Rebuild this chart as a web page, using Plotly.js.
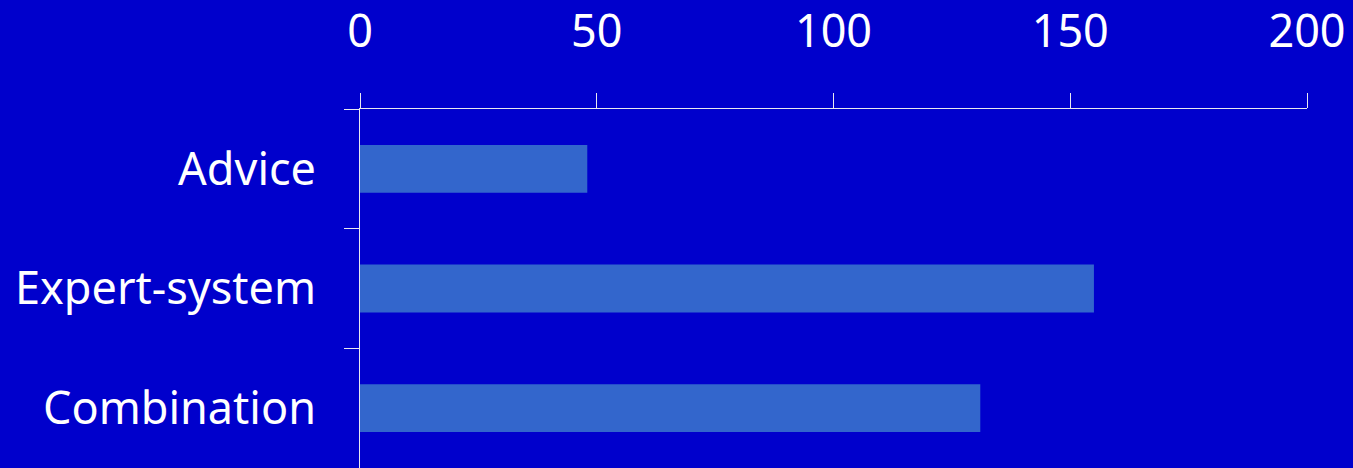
<!DOCTYPE html>
<html>
<head>
<meta charset="utf-8">
<script src="https://cdn.plot.ly/plotly-3.0.1.min.js"></script>
<style>html,body{margin:0;padding:0;background:#0000CC;overflow:hidden;}</style>
</head>
<body>
<div id="chart" style="width:1353px;height:468px;"></div>
<script>
const categories = ["Advice", "Expert-system", "Combination"];
const values = [48, 155, 131];
const xTicks = [0, 50, 100, 150, 200];

const lineColor = "#E8E8F0";
const data = [{
  type: "bar",
  orientation: "h",
  y: categories,
  x: values,
  marker: {color: "#3366CC", line: {width: 0}},
  hoverinfo: "none"
}];

const layout = {
  width: 1353,
  height: 468,
  paper_bgcolor: "#0000CC",
  plot_bgcolor: "#0000CC",
  margin: {l: 360, r: 46, t: 109, b: 0, pad: 0},
  bargap: 0.6,
  showlegend: false,
  font: {family: "Noto Sans", color: "#FFFFFF", size: 45},
  xaxis: {
    side: "top",
    range: [0, 200],
    tickvals: xTicks,
    ticktext: xTicks.map(String),
    ticks: "outside",
    ticklen: 15,
    tickwidth: 1,
    tickcolor: lineColor,
    showline: true,
    linecolor: lineColor,
    linewidth: 1,
    showgrid: false,
    zeroline: false,
    ticklabelstandoff: 28,
    tickfont: {family: "Noto Sans", size: 45, color: "#FFFFFF"}
  },
  yaxis: {
    type: "category",
    categoryorder: "array",
    categoryarray: categories,
    range: [2.5, -0.5],
    tickson: "boundaries",
    ticks: "outside",
    ticklen: 15,
    tickwidth: 1,
    tickcolor: lineColor,
    showline: true,
    linecolor: lineColor,
    linewidth: 1,
    showgrid: false,
    zeroline: false,
    ticklabelstandoff: 34,
    tickfont: {family: "Noto Sans", size: 45, color: "#FFFFFF"}
  }
};

Plotly.newPlot("chart", data, layout, {staticPlot: true, displayModeBar: false});
</script>
</body>
</html>
